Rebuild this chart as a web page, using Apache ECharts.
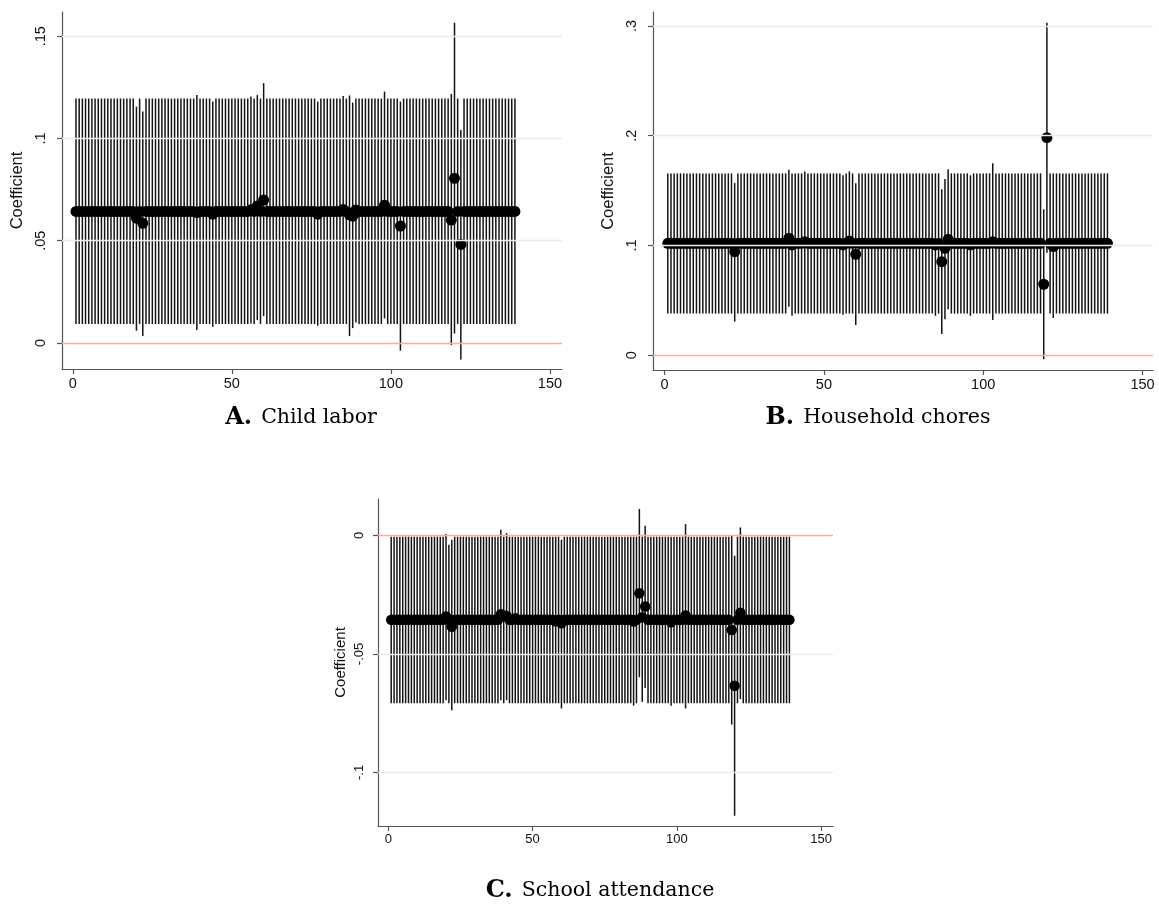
<!DOCTYPE html>
<html>
<head>
<meta charset="utf-8">
<script src="https://cdn.jsdelivr.net/npm/echarts@6/dist/echarts.min.js"></script>
<style>html,body{margin:0;padding:0;background:#fff}#c{width:1159px;height:911px}</style>
</head>
<body>
<div id="c"></div>
<script>
// ---------- DATA ----------
// Specification index 1..139
const specIndex = [];
for (let i = 1; i <= 139; i++) specIndex.push(i);

// Panel A: Child labor
const coefA = [
.0643,.0643,.0643,.0643,.0643,.0643,.0643,.0643,.0643,.0643,
.0643,.0643,.0643,.0643,.0643,.0643,.0643,.0643,.0643,.061,
.0643,.0585,.0643,.0643,.0643,.0643,.0643,.0643,.0643,.0643,
.0643,.0643,.0643,.0643,.0643,.0643,.0643,.0643,.0637,.0643,
.0643,.0643,.0643,.063,.0643,.0643,.0643,.0643,.0643,.0643,
.0643,.0643,.0643,.0643,.0643,.0652,.0643,.067,.0643,.0699,
.0643,.0643,.0643,.0643,.0643,.0643,.0643,.0643,.0643,.0643,
.0643,.0643,.0643,.0643,.0643,.0643,.063,.0643,.0643,.0643,
.0643,.0643,.0643,.0643,.0653,.0643,.0626,.062,.065,.0643,
.0643,.0643,.0643,.0643,.0643,.0643,.0643,.0674,.0643,.0643,
.0643,.0643,.0572,.0643,.0643,.0643,.0643,.0643,.0643,.0643,
.0643,.0643,.0643,.0643,.0643,.0643,.0643,.0643,.0601,.0805,
.0643,.0482,.0643,.0643,.0643,.0643,.0643,.0643,.0643,.0643,
.0643,.0643,.0643,.0643,.0643,.0643,.0643,.0643,.0643];
const loA = [
.0093,.0093,.0093,.0093,.0093,.0093,.0093,.0093,.0093,.0093,
.0093,.0093,.0093,.0093,.0093,.0093,.0093,.0093,.0093,.006,
.0093,.0034,.0093,.0093,.0093,.0093,.0093,.0093,.0093,.0093,
.0093,.0093,.0093,.0093,.0093,.0093,.0093,.0093,.0064,.0093,
.0093,.0093,.0093,.008,.0093,.0093,.0093,.0093,.0093,.0093,
.0093,.0093,.0093,.0093,.0093,.0095,.0093,.0112,.0093,.0132,
.0093,.0093,.0093,.0093,.0093,.0093,.0093,.0093,.0093,.0093,
.0093,.0093,.0093,.0093,.0093,.0093,.0085,.0093,.0093,.0093,
.0093,.0093,.0093,.0093,.0093,.0093,.0034,.0073,.010,.0093,
.0093,.0093,.0093,.0093,.0093,.0093,.0093,.012,.0093,.0093,
.0093,.0093,-.0037,.0093,.0093,.0093,.0093,.0093,.0093,.0093,
.0093,.0093,.0093,.0093,.0093,.0093,.0093,.0093,-.001,.0047,
.0093,-.008,.0093,.0093,.0093,.0093,.0093,.0093,.0093,.0093,
.0093,.0093,.0093,.0093,.0093,.0093,.0093,.0093,.0093];
const hiA = [
.1195,.1195,.1195,.1195,.1195,.1195,.1195,.1195,.1195,.1195,
.1195,.1195,.1195,.1195,.1195,.1195,.1195,.1195,.1195,.1155,
.1195,.1132,.1195,.1195,.1195,.1195,.1195,.1195,.1195,.1195,
.1195,.1195,.1195,.1195,.1195,.1195,.1195,.1195,.1212,.1195,
.1195,.1195,.1195,.118,.1195,.1195,.1195,.1195,.1195,.1195,
.1195,.1195,.1195,.1195,.1195,.1205,.1195,.1212,.1195,.127,
.1195,.1195,.1195,.1195,.1195,.1195,.1195,.1195,.1195,.1195,
.1195,.1195,.1195,.1195,.1195,.1195,.118,.1195,.1195,.1195,
.1195,.1195,.1195,.1195,.1207,.1195,.121,.1175,.1195,.1195,
.1195,.1195,.1195,.1195,.1195,.1195,.1195,.1229,.1195,.1195,
.1195,.1195,.118,.1195,.1195,.1195,.1195,.1195,.1195,.1195,
.1195,.1195,.1195,.1195,.1195,.1195,.1195,.1195,.1217,.1566,
.1195,.1041,.1195,.1195,.1195,.1195,.1195,.1195,.1195,.1195,
.1195,.1195,.1195,.1195,.1195,.1195,.1195,.1195,.1195];

// Panel B: Household chores
const coefB = [
.102,.102,.102,.102,.102,.102,.102,.102,.102,.102,
.102,.102,.102,.102,.102,.102,.102,.102,.102,.102,
.102,.0944,.102,.102,.102,.102,.102,.102,.102,.102,
.102,.102,.102,.102,.102,.102,.102,.102,.1066,.1005,
.102,.102,.102,.1035,.102,.102,.102,.102,.102,.102,
.102,.102,.102,.102,.102,.1005,.102,.104,.102,.092,
.102,.102,.102,.102,.102,.102,.102,.102,.102,.102,
.102,.102,.102,.102,.102,.102,.102,.102,.102,.102,
.102,.102,.102,.102,.1005,.102,.0853,.0975,.1056,.102,
.102,.102,.102,.102,.102,.1005,.102,.102,.102,.102,
.102,.102,.1035,.102,.102,.102,.102,.102,.102,.102,
.102,.102,.102,.102,.102,.102,.102,.102,.0647,.1982,
.102,.099,.102,.102,.102,.102,.102,.102,.102,.102,
.102,.102,.102,.102,.102,.102,.102,.102,.102];
const loB = [
.038,.038,.038,.038,.038,.038,.038,.038,.038,.038,
.038,.038,.038,.038,.038,.038,.038,.038,.038,.038,
.038,.0306,.038,.038,.038,.038,.038,.038,.038,.038,
.038,.038,.038,.038,.038,.038,.038,.038,.0443,.036,
.038,.038,.038,.038,.038,.038,.038,.038,.038,.038,
.038,.038,.038,.038,.038,.037,.038,.038,.038,.0276,
.038,.038,.038,.038,.038,.038,.038,.038,.038,.038,
.038,.038,.038,.038,.038,.038,.038,.038,.038,.038,
.038,.038,.038,.038,.036,.038,.0194,.0328,.042,.038,
.038,.038,.038,.038,.038,.036,.038,.038,.038,.038,
.038,.038,.0322,.038,.038,.038,.038,.038,.038,.038,
.038,.038,.038,.038,.038,.038,.038,.038,-.0036,.0935,
.038,.034,.038,.038,.038,.038,.038,.038,.038,.038,
.038,.038,.038,.038,.038,.038,.038,.038,.038];
const hiB = [
.1657,.1657,.1657,.1657,.1657,.1657,.1657,.1657,.1657,.1657,
.1657,.1657,.1657,.1657,.1657,.1657,.1657,.1657,.1657,.1657,
.1657,.157,.1657,.1657,.1657,.1657,.1657,.1657,.1657,.1657,
.1657,.1657,.1657,.1657,.1657,.1657,.1657,.1657,.169,.1657,
.1657,.1657,.1657,.1675,.1657,.1657,.1657,.1657,.1657,.1657,
.1657,.1657,.1657,.1657,.1657,.164,.1657,.1675,.1657,.1566,
.1657,.1657,.1657,.1657,.1657,.1657,.1657,.1657,.1657,.1657,
.1657,.1657,.1657,.1657,.1657,.1657,.1657,.1657,.1657,.1657,
.1657,.1657,.1657,.1657,.1657,.1657,.1512,.1606,.1694,.1657,
.1657,.1657,.1657,.1657,.1657,.164,.1657,.1657,.1657,.1657,
.1657,.1657,.1749,.1657,.1657,.1657,.1657,.1657,.1657,.1657,
.1657,.1657,.1657,.1657,.1657,.1657,.1657,.1657,.133,.303,
.1657,.1657,.1657,.1657,.1657,.1657,.1657,.1657,.1657,.1657,
.1657,.1657,.1657,.1657,.1657,.1657,.1657,.1657,.1657];

// Panel C: School attendance
const coefC = [
-.0356,-.0356,-.0356,-.0356,-.0356,-.0356,-.0356,-.0356,-.0356,-.0356,
-.0356,-.0356,-.0356,-.0356,-.0356,-.0356,-.0356,-.0356,-.0356,-.0342,
-.0356,-.0385,-.0356,-.0356,-.0356,-.0356,-.0356,-.0356,-.0356,-.0356,
-.0356,-.0356,-.0356,-.0356,-.0356,-.0356,-.0356,-.0356,-.0332,-.0338,
-.034,-.0356,-.0356,-.0349,-.0356,-.0356,-.0356,-.0356,-.0356,-.0356,
-.0356,-.0356,-.0356,-.0356,-.0356,-.0356,-.0356,-.0362,-.0356,-.037,
-.0356,-.0356,-.0356,-.0356,-.0356,-.0356,-.0356,-.0356,-.0356,-.0356,
-.0356,-.0356,-.0356,-.0356,-.0356,-.0356,-.0356,-.0356,-.0356,-.0356,
-.0356,-.0356,-.0356,-.0356,-.0363,-.0356,-.0244,-.0345,-.030,-.0356,
-.0356,-.0356,-.0356,-.0356,-.0356,-.0356,-.0356,-.0366,-.0356,-.0356,
-.0356,-.0356,-.0338,-.0356,-.0356,-.0356,-.0356,-.0356,-.0356,-.0356,
-.0356,-.0356,-.0356,-.0356,-.0356,-.0356,-.0356,-.0356,-.0399,-.0634,
-.0356,-.0326,-.0356,-.0356,-.0356,-.0356,-.0356,-.0356,-.0356,-.0356,
-.0356,-.0356,-.0356,-.0356,-.0356,-.0356,-.0356,-.0356,-.0356];
const loC = [
-.0708,-.0708,-.0708,-.0708,-.0708,-.0708,-.0708,-.0708,-.0708,-.0708,
-.0708,-.0708,-.0708,-.0708,-.0708,-.0708,-.0708,-.0708,-.0708,-.0695,
-.0708,-.0737,-.0708,-.0708,-.0708,-.0708,-.0708,-.0708,-.0708,-.0708,
-.0708,-.0708,-.0708,-.0708,-.0708,-.0708,-.0708,-.0708,-.0695,-.0708,
-.0695,-.0708,-.0708,-.0708,-.0708,-.0708,-.0708,-.0708,-.0708,-.0708,
-.0708,-.0708,-.0708,-.0708,-.0708,-.0708,-.0708,-.0708,-.0708,-.073,
-.0708,-.0708,-.0708,-.0708,-.0708,-.0708,-.0708,-.0708,-.0708,-.0708,
-.0708,-.0708,-.0708,-.0708,-.0708,-.0708,-.0708,-.0708,-.0708,-.0708,
-.0708,-.0708,-.0708,-.0708,-.0718,-.0708,-.0598,-.0702,-.0644,-.0708,
-.0708,-.0708,-.0708,-.0708,-.0708,-.0708,-.0708,-.0718,-.0708,-.0708,
-.0708,-.0708,-.073,-.0708,-.0708,-.0708,-.0708,-.0708,-.0708,-.0708,
-.0708,-.0708,-.0708,-.0708,-.0708,-.0708,-.0708,-.0708,-.0798,-.1183,
-.0708,-.069,-.0708,-.0708,-.0708,-.0708,-.0708,-.0708,-.0708,-.0708,
-.0708,-.0708,-.0708,-.0708,-.0708,-.0708,-.0708,-.0708,-.0708];
const hiC = [
-.0005,-.0005,-.0005,-.0005,-.0005,-.0005,-.0005,-.0005,-.0005,-.0005,
-.0005,-.0005,-.0005,-.0005,-.0005,-.0005,-.0005,-.0005,-.0005,.0006,
-.0039,-.0018,-.0005,-.0005,-.0005,-.0005,-.0005,-.0005,-.0005,-.0005,
-.0005,-.0005,-.0005,-.0005,-.0005,-.0005,-.0005,-.0005,.0024,-.0005,
.001,-.0005,-.0005,-.0005,-.0005,-.0005,-.0005,-.0005,-.0005,-.0005,
-.0005,-.0005,-.0005,-.0005,-.0005,-.0005,-.0005,-.0005,-.0005,-.0018,
-.0005,-.0005,-.0005,-.0005,-.0005,-.0005,-.0005,-.0005,-.0005,-.0005,
-.0005,-.0005,-.0005,-.0005,-.0005,-.0005,-.0005,-.0005,-.0005,-.0005,
-.0005,-.0005,-.0005,-.0005,-.0005,-.0005,.0112,-.0005,.0041,-.0005,
-.0005,-.0005,-.0005,-.0005,-.0005,-.0005,-.0005,-.0005,-.0005,-.0005,
-.0005,-.0005,.0048,-.0005,-.0005,-.0005,-.0005,-.0005,-.0005,-.0005,
-.0005,-.0005,-.0005,-.0005,-.0005,-.0005,-.0005,-.0005,-.0001,-.0086,
-.0005,.0034,-.0005,-.0005,-.0005,-.0005,-.0005,-.0005,-.0005,-.0005,
-.0005,-.0005,-.0005,-.0005,-.0005,-.0005,-.0005,-.0005,-.0005];

// Tick labels
const xTicks = [0, 50, 100, 150];
const yTicksA = [0, 0.05, 0.1, 0.15];
const yTicksB = [0, 0.1, 0.2, 0.3];
const yTicksC = [-0.1, -0.05, 0];
const panelLetters = ['A.', 'B.', 'C.'];
const panelTitles = ['Child labor', 'Household chores', 'School attendance'];
const yAxisTitle = 'Coefficient';

// ---------- CHART ----------
const SANS = 'Liberation Sans, Arial, sans-serif';
const SERIF = 'DejaVu Serif, serif';
const fmtY = v => {
  if (Math.abs(v) < 1e-9) return '0';
  return String(+v.toFixed(4)).replace('0.', '.');
};

const panels = [
  {grid:{left:62, top:12, width:500, height:357}, xr:[-3.4,153.8], yr:[-0.0127,0.1618], yt:yTicksA, c:coefA, lo:loA, hi:hiA, fs:14.5, nfs:16.5, ng:36, lm:14, sym:11},
  {grid:{left:653, top:12, width:500, height:358}, xr:[-3.64,153.3], yr:[-0.0134,0.3127], yt:yTicksB, c:coefB, lo:loB, hi:hiB, fs:14.5, nfs:16.5, ng:36, lm:14, sym:11},
  {grid:{left:378, top:499, width:455, height:327}, xr:[-3.57,154.1], yr:[-0.1226,0.0154], yt:yTicksC, c:coefC, lo:loC, hi:hiC, fs:13, nfs:15, ng:30, lm:12, sym:10.5}
];

const grids = [], xAxes = [], yAxes = [], series = [];
panels.forEach((p, k) => {
  grids.push(p.grid);
  xAxes.push({
    type:'value', gridIndex:k, min:p.xr[0], max:p.xr[1],
    axisLine:{show:true, onZero:false, lineStyle:{color:'#555', width:1.2}},
    axisTick:{show:true, customValues:xTicks, length:5, lineStyle:{color:'#555', width:1.2}},
    axisLabel:{customValues:xTicks, color:'#111', fontFamily:SANS, fontSize:p.fs, margin:7},
    splitLine:{show:false}
  });
  yAxes.push({
    type:'value', gridIndex:k, min:p.yr[0], max:p.yr[1],
    name:yAxisTitle, nameLocation:'middle', nameGap:p.ng,
    nameTextStyle:{color:'#111', fontFamily:SANS, fontSize:p.nfs},
    axisLine:{show:true, onZero:false, lineStyle:{color:'#555', width:1.2}},
    axisTick:{show:true, customValues:p.yt, length:5, lineStyle:{color:'#555', width:1.2}},
    axisLabel:{customValues:p.yt, rotate:90, color:'#111', fontFamily:SANS, fontSize:p.fs, margin:p.lm, formatter:fmtY},
    splitLine:{show:false}
  });
  const gridVals = p.yt.filter(v => Math.abs(v) > 1e-9);
  // light grid lines
  series.push({
    type:'line', xAxisIndex:k, yAxisIndex:k, data:[], silent:true, z:1,
    markLine:{
      silent:true, symbol:['none','none'], animation:false, label:{show:false},
      lineStyle:{color:'#e4edf0', width:1.3, type:'solid'},
      emphasis:{disabled:true},
      data: gridVals.map(v => ({yAxis:v}))
    }
  });
  // pink zero line
  series.push({
    type:'line', xAxisIndex:k, yAxisIndex:k, data:[], silent:true, z:1,
    markLine:{
      silent:true, symbol:['none','none'], animation:false, label:{show:false},
      lineStyle:{color:'#f8acac', width:1.3, type:'solid', opacity:1},
      emphasis:{disabled:true},
      data: [{yAxis:0}]
    }
  });
  const ciData = specIndex.map((x, i) => [x, p.lo[i], p.hi[i]]);
  series.push({
    type:'custom', xAxisIndex:k, yAxisIndex:k, z:2, silent:true,
    encode:{x:0, y:[1,2]},
    data: ciData,
    renderItem:(params, api) => {
      const x = api.value(0);
      const a = api.coord([x, api.value(1)]);
      const b = api.coord([x, api.value(2)]);
      return {type:'line', shape:{x1:a[0], y1:a[1], x2:b[0], y2:b[1]},
        style:{stroke:'#141414', lineWidth:1.5}};
    }
  });
  series.push({
    type:'scatter', xAxisIndex:k, yAxisIndex:k, z:3, silent:true,
    symbol:'circle', symbolSize:p.sym,
    itemStyle:{color:'#000', opacity:1},
    data: specIndex.map((x, i) => [x, p.c[i]])
  });
});

const titlePos = [[301, 418], [878, 418], [600, 891]];
const graphics = titlePos.map((pos, k) => ({
  type:'text', x:pos[0], y:pos[1], silent:true,
  style:{
    text:'{b|' + panelLetters[k] + '}{n|' + panelTitles[k] + '}',
    align:'center', verticalAlign:'middle',
    rich:{
      b:{fontFamily:SERIF, fontWeight:'bold', fontSize:24, fill:'#000', color:'#000', padding:[0,9,0,0]},
      n:{fontFamily:SERIF, fontSize:20.5, fill:'#000', color:'#000'}
    }
  }
}));

const chart = echarts.init(document.getElementById('c'), null, {renderer:'canvas'});
chart.setOption({
  animation:false,
  backgroundColor:'#fff',
  grid:grids, xAxis:xAxes, yAxis:yAxes, series:series,
  graphic:graphics
});
</script>
</body>
</html>
